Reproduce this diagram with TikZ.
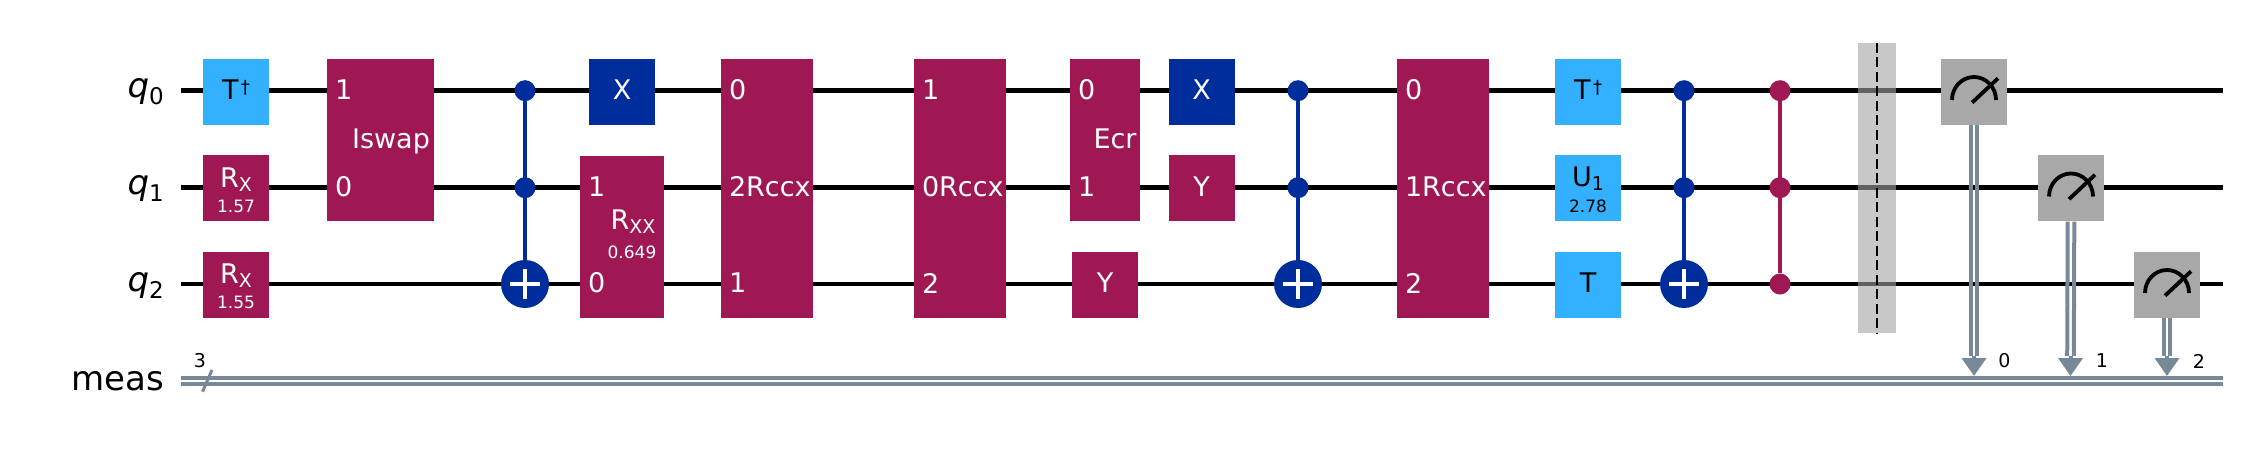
\documentclass[tikz,border=0pt]{standalone}
\usepackage{fontspec}
\setmainfont{DejaVu Sans}
\usetikzlibrary{arrows.meta}
\definecolor{skyq}{HTML}{33B1FF}
\definecolor{wineq}{HTML}{9F1853}
\definecolor{navyq}{HTML}{002D9C}
\definecolor{greyq}{HTML}{A8A8A8}
\definecolor{regq}{HTML}{778899}
\newcommand{\lowtext}[3]{\raisebox{-#1pt}{\fontsize{#2}{#2}\selectfont #3}}
\newcommand{\daggerT}{T\kern2.5pt\raisebox{6.5pt}{\fontsize{18}{18}\selectfont †}}
\begin{document}
\begin{tikzpicture}[x=1pt,y=-1pt,
					wire/.style={draw=black,line width=4.4pt},
					reg/.style={draw=regq,line width=4pt,double,double distance=2pt},
					regline/.style={draw=regq,line width=4pt},
					reghead/.style={draw=regq,line width=4pt,-{Triangle[width=24pt,length=18pt,fill=regq]}},
					box/.style={rectangle,inner sep=0pt,minimum width=66pt,minimum height=66pt,
						font=\fontsize{27}{30}\selectfont,text height=19.7pt,text depth=4pt},
					wine gate/.style={box,fill=wineq,text=white},
					navy gate/.style={box,fill=navyq,text=white},
					sky gate/.style={box,fill=skyq,text=black},
					meter/.style={box,fill=greyq},
					gatetext/.style={inner sep=0pt,font=\fontsize{27}{30}\selectfont},
					digit/.style={gatetext,text=white,anchor=west,xshift=8pt,yshift=1pt},
					param/.style={inner sep=0pt,font=\fontsize{17}{20}\selectfont},
					index/.style={inner sep=0pt,font=\fontsize{19}{22}\selectfont},
					regname/.style={inner sep=0pt,anchor=base east,font=\fontsize{34}{38}\selectfont},
					cxline/.style={draw=navyq,line width=4.5pt},
					czline/.style={draw=wineq,line width=4.5pt},
					cxdot/.style={circle,fill=navyq,inner sep=0pt,minimum size=21pt},
					czdot/.style={circle,fill=wineq,inner sep=0pt,minimum size=21pt},
					target/.style={circle,fill=navyq,inner sep=0pt,minimum size=48pt,
						path picture={\draw[white,line width=4.5pt]
							([xshift=-15pt]path picture bounding box.center) -- ([xshift=15pt]path picture bounding box.center)
							([yshift=-15pt]path picture bounding box.center) -- ([yshift=15pt]path picture bounding box.center);}},
					needle/.style={line width=3.8pt,draw=black}]

  \useasboundingbox (0,0) rectangle (2245,454);

  \coordinate (q0in) at (181,90.7);
  \coordinate (q0out) at (2223,90.7);
  \coordinate (q1in) at (181,187.7);
  \coordinate (q1out) at (2223,187.7);
  \coordinate (q2in) at (181,284);
  \coordinate (q2out) at (2223,284);
  \coordinate (regin) at (181,381);
  \coordinate (regout) at (2223,381);
  \coordinate (slasha) at (202.5,391.7);
  \coordinate (slashb) at (212,370);

  \draw[wire] (q0in) -- (q0out);
  \draw[wire] (q1in) -- (q1out);
  \draw[wire] (q2in) -- (q2out);
  \draw[reg] (regin) -- (regout);
  \draw[draw=regq,line width=3pt] (slasha) -- (slashb);

  \node[regname] (q0) at (164,98) {\textit{q}\lowtext{7}{23}{0}};
  \node[regname] (q1) at (164,195) {\textit{q}\lowtext{7}{23}{1}};
  \node[regname] (q2) at (164,291.5) {\textit{q}\lowtext{7}{23}{2}};
  \node[regname] (meas) at (164,390) {meas};
  \node[index] (regsize) at (200,361) {3};

  \node[sky gate] (tdga) at (236,92) {\daggerT};
  \node[wine gate] (rxa) at (236,188.5) {};
  \node[gatetext,text=white] (rxat) at (236,180) {R\lowtext{4}{19}{X}};
  \node[param,text=white] (rxap) at (236,206.7) {1.57};
  \node[wine gate] (rxb) at (236,285) {};
  \node[gatetext,text=white] (rxbt) at (236,275.5) {R\lowtext{4}{19}{X}};
  \node[param,text=white] (rxbp) at (236,302.7) {1.55};

  \node[wine gate,minimum width=107pt,minimum height=162pt] (iswap) at (380.5,140) {};
  \node[digit] (iswapa) at (iswap.west |- q0in) {1};
  \node[digit] (iswapb) at (iswap.west |- q1in) {0};
  \node[gatetext,text=white] (iswapt) at (391,141) {Iswap};

  \node[cxdot] (cxaa) at (525,90.7) {};
  \node[cxdot] (cxab) at (525,187.7) {};
  \node[target] (cxat) at (525,284) {};
  \draw[cxline] (cxaa) -- (cxat);

  \node[navy gate] (xa) at (622,92) {X};
  \node[wine gate,minimum width=84pt,minimum height=162pt] (rxx) at (622,237) {};
  \node[digit] (rxxa) at (rxx.west |- q1in) {1};
  \node[digit] (rxxb) at (rxx.west |- q2in) {0};
  \node[gatetext,text=white] (rxxt) at (633,221.7) {R\lowtext{4}{19}{XX}};
  \node[param,text=white] (rxxp) at (632,252.7) {0.649};

  \node[wine gate,minimum width=92pt,minimum height=259pt] (rccxa) at (767,188.4) {};
  \node[digit] (rccxaa) at (rccxa.west |- q0in) {0};
  \node[digit] (rccxab) at (rccxa.west |- q1in) {2Rccx};
  \node[digit] (rccxac) at (rccxa.west |- q2in) {1};

  \node[wine gate,minimum width=92pt,minimum height=259pt] (rccxb) at (960,188.4) {};
  \node[digit] (rccxba) at (rccxb.west |- q0in) {1};
  \node[digit] (rccxbb) at (rccxb.west |- q1in) {0Rccx};
  \node[digit] (rccxbc) at (rccxb.west |- q2in) {2};

  \node[wine gate,minimum width=70pt,minimum height=162pt] (ecr) at (1105,140) {};
  \node[digit] (ecra) at (ecr.west |- q0in) {0};
  \node[digit] (ecrb) at (ecr.west |- q1in) {1};
  \node[gatetext,text=white] (ecrt) at (1115,138.5) {Ecr};
  \node[wine gate] (ya) at (1105,285) {Y};

  \node[navy gate] (xb) at (1201.5,92) {X};
  \node[wine gate] (yb) at (1201.5,188.5) {Y};

  \node[cxdot] (cxba) at (1298,90.7) {};
  \node[cxdot] (cxbb) at (1298,187.7) {};
  \node[target] (cxbt) at (1298,284) {};
  \draw[cxline] (cxba) -- (cxbt);

  \node[wine gate,minimum width=92pt,minimum height=259pt] (rccxc) at (1443,188.4) {};
  \node[digit] (rccxca) at (rccxc.west |- q0in) {0};
  \node[digit] (rccxcb) at (rccxc.west |- q1in) {1Rccx};
  \node[digit] (rccxcc) at (rccxc.west |- q2in) {2};

  \node[sky gate] (tdgb) at (1588,92) {\daggerT};
  \node[sky gate] (ua) at (1588,188.5) {};
  \node[gatetext] (uat) at (1588,178.7) {U\lowtext{4}{19}{1}};
  \node[param] (uap) at (1588,206.7) {2.78};
  \node[sky gate] (ta) at (1588,285) {T};

  \node[cxdot] (cxca) at (1684,90.7) {};
  \node[cxdot] (cxcb) at (1684,187.7) {};
  \node[target] (cxct) at (1684,284) {};
  \draw[cxline] (cxca) -- (cxct);

  \node[czdot] (cza) at (1780,90.7) {};
  \node[czdot] (czb) at (1780,187.7) {};
  \node[czdot] (czc) at (1780,284) {};
  \draw[czline] (cza) -- (czc);

  \node[rectangle,inner sep=0pt,minimum width=38pt,minimum height=290pt,fill=black!36,fill opacity=.6] (barrier) at (1877,188) {};
  \draw[draw=black,line width=2.7pt,dash pattern=on 10pt off 4.5pt] (barrier.north) -- (barrier.south);

  \node[meter] (ma) at (1974,92) {};
  \node[meter] (mb) at (2071,188.5) {};
  \node[meter] (mc) at (2167,285) {};

  \draw[needle] (1952,100) arc[start angle=180,end angle=360,x radius=22,y radius=23];
  \draw[needle] (1972,102.7) -- (1998,78.3);
  \draw[needle] (2049,196.5) arc[start angle=180,end angle=360,x radius=22,y radius=23];
  \draw[needle] (2069,199.2) -- (2095,174.8);
  \draw[needle] (2145,293) arc[start angle=180,end angle=360,x radius=22,y radius=23];
  \draw[needle] (2165,295.7) -- (2191,271.3);

  \coordinate (ca) at (1974,376);
  \coordinate (cb) at (2070.5,376);
  \coordinate (cc) at (2167,376);
  \coordinate (ha) at (1974,356);
  \coordinate (hb) at (2070.5,356);
  \coordinate (hc) at (2167,356);

  \draw[regline] ([xshift=-3.3pt]ma.south) -- ([xshift=-3.3pt]ha);
  \draw[regline] ([xshift=3.3pt]ma.south) -- ([xshift=3.3pt]ha);
  \draw[regline] ([xshift=-3.3pt]mb.south) -- ([xshift=-3.3pt]hb);
  \draw[regline] ([xshift=3.3pt]mb.south) -- ([xshift=3.3pt]hb);
  \draw[regline] ([xshift=-3.3pt]mc.south) -- ([xshift=-3.3pt]hc);
  \draw[regline] ([xshift=3.3pt]mc.south) -- ([xshift=3.3pt]hc);
  \draw[reghead] (ha) -- (ca);
  \draw[reghead] (hb) -- (cb);
  \draw[reghead] (hc) -- (cc);

  \node[index] (idxa) at (2004.5,361) {0};
  \node[index] (idxb) at (2102,361) {1};
  \node[index] (idxc) at (2199,361) {2};
\end{tikzpicture}
\end{document}
